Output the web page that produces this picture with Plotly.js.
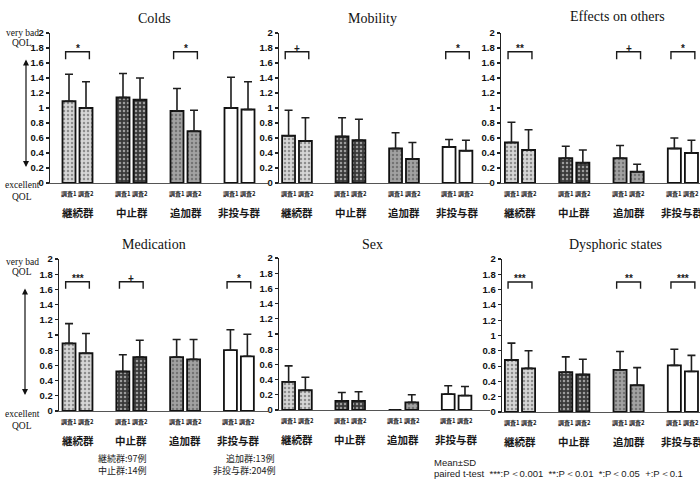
<!DOCTYPE html>
<html><head><meta charset="utf-8">
<script src="https://cdn.plot.ly/plotly-3.0.1.min.js"></script>
<style>body{margin:0;background:#fff}</style>
</head><body><div id="chart" style="width:700px;height:480px"></div>
<script>
// ---------- data ----------
const groups = ['継続群','中止群','追加群','非投与群'];
const surveyPair = '調査1 調査2';
const panelTitles = ['Colds','Mobility','Effects on others','Medication','Sex','Dysphoric states'];

const coldsS1 = [1.09, 1.14, 0.96, 1.00];
const coldsS1sd = [0.36, 0.32, 0.30, 0.41];
const coldsS2 = [1.00, 1.11, 0.69, 0.98];
const coldsS2sd = [0.35, 0.29, 0.28, 0.37];
const coldsSig = ['*', '', '*', ''];

const mobilityS1 = [0.63, 0.62, 0.46, 0.48];
const mobilityS1sd = [0.34, 0.25, 0.21, 0.10];
const mobilityS2 = [0.56, 0.57, 0.32, 0.43];
const mobilityS2sd = [0.31, 0.28, 0.22, 0.14];
const mobilitySig = ['+', '', '', '*'];

const effectsS1 = [0.54, 0.33, 0.33, 0.46];
const effectsS1sd = [0.27, 0.16, 0.17, 0.14];
const effectsS2 = [0.44, 0.27, 0.15, 0.40];
const effectsS2sd = [0.27, 0.17, 0.10, 0.17];
const effectsSig = ['**', '', '+', '*'];

const medicationS1 = [0.89, 0.52, 0.71, 0.80];
const medicationS1sd = [0.26, 0.22, 0.23, 0.27];
const medicationS2 = [0.76, 0.71, 0.68, 0.72];
const medicationS2sd = [0.26, 0.22, 0.26, 0.29];
const medicationSig = ['***', '+', '', '*'];

const sexS1 = [0.37, 0.12, 0.00, 0.21];
const sexS1sd = [0.21, 0.11, 0.00, 0.11];
const sexS2 = [0.26, 0.12, 0.10, 0.19];
const sexS2sd = [0.17, 0.12, 0.10, 0.12];
const sexSig = ['', '', '', ''];

const dysphoricS1 = [0.68, 0.52, 0.55, 0.61];
const dysphoricS1sd = [0.22, 0.20, 0.24, 0.21];
const dysphoricS2 = [0.57, 0.49, 0.35, 0.53];
const dysphoricS2sd = [0.23, 0.20, 0.23, 0.21];
const dysphoricSig = ['***', '', '**', '***'];

const yTicks = [0, 0.2, 0.4, 0.6, 0.8, 1, 1.2, 1.4, 1.6, 1.8, 2];
const caseNotes = ['継続群:97例', '中止群:14例', '追加群:13例', '非投与群:204例'];
const statNote1 = 'Mean±SD';
const statNote2 = 'paired t-test  ***:P＜0.001  **:P＜0.01  *:P＜0.05  +:P＜0.1';

const panels = [
  [coldsS1, coldsS1sd, coldsS2, coldsS2sd, coldsSig],
  [mobilityS1, mobilityS1sd, mobilityS2, mobilityS2sd, mobilitySig],
  [effectsS1, effectsS1sd, effectsS2, effectsS2sd, effectsSig],
  [medicationS1, medicationS1sd, medicationS2, medicationS2sd, medicationSig],
  [sexS1, sexS1sd, sexS2, sexS2sd, sexSig],
  [dysphoricS1, dysphoricS1sd, dysphoricS2, dysphoricS2sd, dysphoricSig]
];

// ---------- layout geometry (pixels) ----------
const W = 700, H = 480;
const geom = [
  {left:50,  g1:77.5, sp:54.0, right:268, top:33,  bottom:183, tx:154, ty:19},
  {left:279, g1:297,  sp:53.5, right:490, top:33,  bottom:183, tx:373, ty:19},
  {left:501, g1:520,  sp:54.3, right:700, top:33,  bottom:183, tx:617, ty:17},
  {left:59,  g1:77.5, sp:53.8, right:268, top:259, bottom:411, tx:154, ty:245},
  {left:279, g1:297,  sp:53.2, right:490, top:258, bottom:410, tx:373, ty:245},
  {left:502, g1:520,  sp:54.3, right:700, top:259, bottom:412, tx:615, ty:245}
];
const px = v => v / W;
const py = v => 1 - v / H;

const barBg = ['#d6d6d6', '#3a3a3a', '#a2a2a2', '#ffffff'];
const barFg = ['#9a9a9a', '#6e6e6e', '#6a6a6a', '#ffffff'];
const barShape = ['.', '.', '.', ''];

const serif = 'Liberation Serif, Times New Roman, serif';
const sans = 'Liberation Sans, Arial, sans-serif';
const jp = 'Noto Sans CJK JP, sans-serif';

const traces = [];
const layout = {
  width: W, height: H, margin: {l:0, r:0, t:0, b:0},
  paper_bgcolor: '#fff', plot_bgcolor: 'rgba(0,0,0,0)',
  showlegend: false, barmode: 'group', bargap: 0.37, bargroupgap: 0.235,
  annotations: [], shapes: []
};

panels.forEach((p, k) => {
  const n = k + 1;
  const g = geom[k];
  const xa = 'x' + (k === 0 ? '' : n), ya = 'y' + (k === 0 ? '' : n);
  [0, 1].forEach(s => {
    const vals = p[s * 2], sd = p[s * 2 + 1];
    traces.push({
      type: 'bar', x: groups, y: vals, xaxis: xa, yaxis: ya,
      marker: {
        color: barBg,
        line: {color: '#111', width: 1.8},
        pattern: {shape: barShape, fgcolor: barFg, size: 4, solidity: 0.3, fillmode: 'overlay'}
      },
      error_y: {type: 'data', symmetric: false, array: sd, arrayminus: sd.map(() => 0),
                color: '#1e1e1e', thickness: 1.6, width: 4},
      hoverinfo: 'skip'
    });
  });
  const xr = [-(g.g1 - g.left) / g.sp, (g.right - g.g1) / g.sp];
  layout['xaxis' + (k === 0 ? '' : n)] = {
    domain: [px(g.left), px(g.right)], anchor: ya, type: 'category',
    range: xr, showticklabels: false, ticks: '', showgrid: false, zeroline: false,
    showline: true, linecolor: '#555', linewidth: 1, fixedrange: true
  };
  layout['yaxis' + (k === 0 ? '' : n)] = {
    domain: [py(g.bottom), py(g.top)], anchor: xa, range: [0, 2],
    tickvals: yTicks, ticks: 'outside', ticklen: 3, tickwidth: 1.2, tickcolor: '#222',
    showgrid: false, zeroline: false, showline: true, linecolor: '#222', linewidth: 1.3,
    tickfont: {family: sans, size: 9.5, color: '#111', weight: 'bold'}, fixedrange: true
  };
  // title
  layout.annotations.push({xref:'paper', yref:'paper', x:px(g.tx), y:py(g.ty), text:panelTitles[k],
    showarrow:false, xanchor:'center', yanchor:'middle', font:{family:serif, size:14, color:'#111'}});
  groups.forEach((gr, i) => {
    layout.annotations.push({xref:xa, yref:'paper', x:i, y:py(g.bottom + 29), text:gr,
      showarrow:false, xanchor:'center', yanchor:'middle', font:{family:jp, size:10.5, color:'#1a1a1a', weight:'bold'}});
    layout.annotations.push({xref:xa, yref:'paper', x:i, y:py(g.bottom + 10), text:surveyPair,
      showarrow:false, xanchor:'center', yanchor:'middle', font:{family:jp, size:6, color:'#1a1a1a', weight:'bold'}});
    const sig = p[4][i];
    if (sig) {
      const top = k < 3 ? 1.75 : 1.70, leg = k < 3 ? 1.65 : 1.61;
      const x0 = i - 0.22, x1 = i + 0.22;
      layout.shapes.push({type:'path', xref:xa, yref:ya,
        path:`M${x0},${leg} L${x0},${top} L${x1},${top} L${x1},${leg}`,
        line:{color:'#1a1a1a', width:1.4}});
      layout.annotations.push({xref:xa, yref:ya, x:i, y:top, text:sig, showarrow:false,
        xanchor:'center', yanchor:'bottom', yshift:-4, font:{family:sans, size:10, color:'#1a1a1a', weight:'bold'}});
    }
  });
});

// left QOL labels and arrows
[[33, 43, 185, 197, 58, 167, 26], [262, 272, 414, 426, 287, 395, 25]].forEach(r => {
  const lab = (txt, y) => layout.annotations.push({xref:'paper', yref:'paper', x:px(22), y:py(y), text:txt,
    showarrow:false, xanchor:'center', yanchor:'middle', font:{family:serif, size:9.5, color:'#111'}});
  lab('very bad', r[0]); lab('QOL', r[1]); lab('excellent', r[2]); lab('QOL', r[3]);
  layout.annotations.push({xref:'paper', yref:'paper', axref:'paper', ayref:'paper',
    x:px(r[6]), y:py(r[5]), ax:px(r[6]), ay:py(r[4]), text:'', showarrow:true,
    arrowhead:2, startarrowhead:2, arrowside:'end+start', arrowsize:1, startarrowsize:1,
    arrowwidth:1.2, arrowcolor:'#111'});
});

// notes
[[148, 458, 0], [148, 470, 1], [276, 458, 2], [277, 470, 3]].forEach(r => {
  layout.annotations.push({xref:'paper', yref:'paper', x:px(r[0]), y:py(r[1]), text:caseNotes[r[2]],
    showarrow:false, xanchor:'right', yanchor:'middle', borderpad:0,
    font:{family:jp, size:9, color:'#1a1a1a'}});
});
layout.annotations.push({xref:'paper', yref:'paper', x:px(433), y:py(462), text:statNote1,
  showarrow:false, xanchor:'left', yanchor:'middle', borderpad:0, font:{family:sans, size:9.5, color:'#1a1a1a'}});
layout.annotations.push({xref:'paper', yref:'paper', x:px(433), y:py(473), text:statNote2,
  showarrow:false, xanchor:'left', yanchor:'middle', borderpad:0, font:{family:sans, size:9.5, color:'#1a1a1a'}});

Plotly.newPlot('chart', traces, layout, {staticPlot: true, displayModeBar: false});
</script>
</body></html>
